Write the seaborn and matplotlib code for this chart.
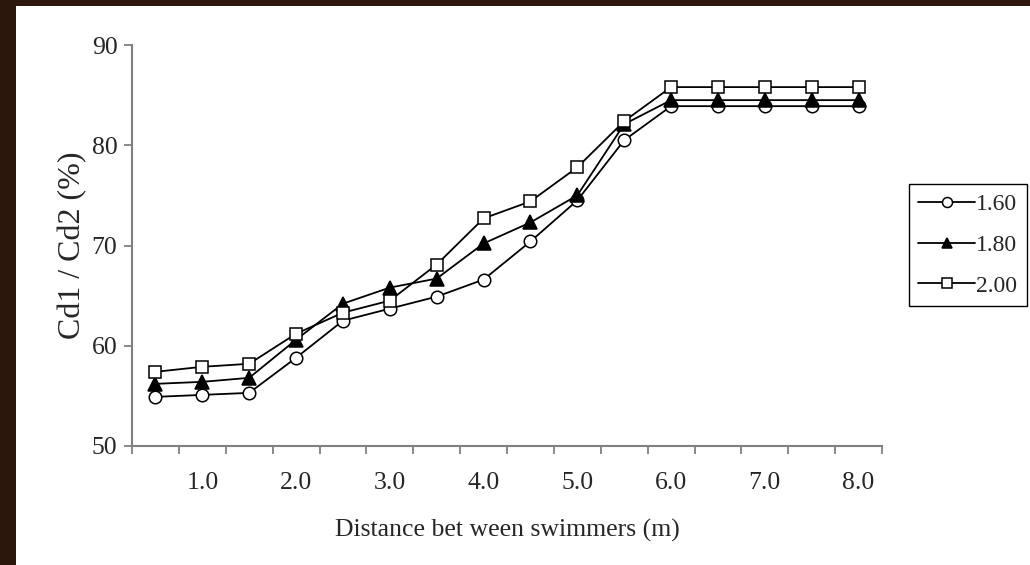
import matplotlib
matplotlib.use("Agg")
import matplotlib.pyplot as plt
from matplotlib.patches import Rectangle
import seaborn as sns
import pandas as pd

# distance between swimmers (m)
distance = [0.5, 1.0, 1.5, 2.0, 2.5, 3.0, 3.5, 4.0,
            4.5, 5.0, 5.5, 6.0, 6.5, 7.0, 7.5, 8.0]
# Cd1 / Cd2 (%) for each series
cd_160 = [54.9, 55.1, 55.3, 58.8, 62.5, 63.7, 64.9, 66.6,
          70.4, 74.5, 80.5, 83.9, 83.9, 83.9, 83.9, 83.9]
cd_180 = [56.2, 56.4, 56.8, 60.6, 64.2, 65.8, 66.7, 70.2,
          72.3, 75.0, 82.1, 84.5, 84.5, 84.5, 84.5, 84.5]
cd_200 = [57.4, 57.9, 58.2, 61.2, 63.3, 64.5, 68.1, 72.7,
          74.4, 77.8, 82.4, 85.8, 85.8, 85.8, 85.8, 85.8]
series_labels = ["1.60", "1.80", "2.00"]
x_tick_labels = ["1.0", "2.0", "3.0", "4.0", "5.0", "6.0", "7.0", "8.0"]
y_ticks = [50, 60, 70, 80, 90]

df = pd.DataFrame({"distance": distance * 3,
                   "cd": cd_160 + cd_180 + cd_200,
                   "size": [s for s in series_labels for _ in distance]})

sns.set_style("white")
plt.rcParams["font.family"] = ["Liberation Serif", "DejaVu Serif"]

fig = plt.figure(figsize=(10.3, 5.65), dpi=100)
fig.patch.set_facecolor("#2b170b")
# white slide panel
fig.add_artist(Rectangle((16 / 1030, 0), 1, (565 - 6) / 565,
                         transform=fig.transFigure, facecolor="white",
                         edgecolor="none", zorder=0))

ax = fig.add_axes([132 / 1030, (565 - 446) / 565, 750 / 1030, 401 / 565])
ax.set_facecolor("white")

styles = {"1.60": dict(marker="o", mfc="white", ms=9),
          "1.80": dict(marker="^", mfc="black", ms=9.5),
          "2.00": dict(marker="s", mfc="white", ms=8.5)}

for s in series_labels:
    sns.lineplot(data=df[df["size"] == s], x="distance", y="cd", ax=ax,
                 color="black", lw=1.3, mec="black", mew=1.1,
                 label=s, **styles[s])

ax.set_xlim(0.25, 8.25)
ax.set_ylim(50, 90)
ax.set_yticks(y_ticks)
ax.set_xticks([float(t) for t in x_tick_labels])
ax.set_xticklabels(x_tick_labels)
ax.set_xticks([0.25 + 0.5 * i for i in range(17)], minor=True)
ax.tick_params(axis="x", which="major", bottom=True, length=0, pad=19,
               labelsize=18.5)
ax.tick_params(axis="x", which="minor", bottom=True, length=6, width=1.3,
               color="#808080", direction="out")
ax.tick_params(axis="y", left=True, length=6, width=1.3, color="#808080",
               direction="out", labelsize=18.5, pad=4.5)

for side in ["top", "right"]:
    ax.spines[side].set_visible(False)
for side in ["left", "bottom"]:
    ax.spines[side].set_color("#808080")
    ax.spines[side].set_linewidth(1.5)

ax.set_xlabel("Distance bet ween swimmers (m)", fontsize=18.5, labelpad=18)
ax.set_ylabel("Cd1 / Cd2 (%)", fontsize=23, labelpad=3.5)

leg = ax.legend(loc="upper left", bbox_to_anchor=(909 / 1030, (565 - 184) / 565),
                bbox_transform=fig.transFigure, borderaxespad=0,
                fontsize=17, handlelength=2.4, handletextpad=0.05,
                labelspacing=0.82, fancybox=False, framealpha=1,
                edgecolor="black", borderpad=0.4, markerscale=0.8)
leg.get_frame().set_linewidth(1.0)

fig.savefig("out.png", dpi=100, facecolor=fig.get_facecolor())
